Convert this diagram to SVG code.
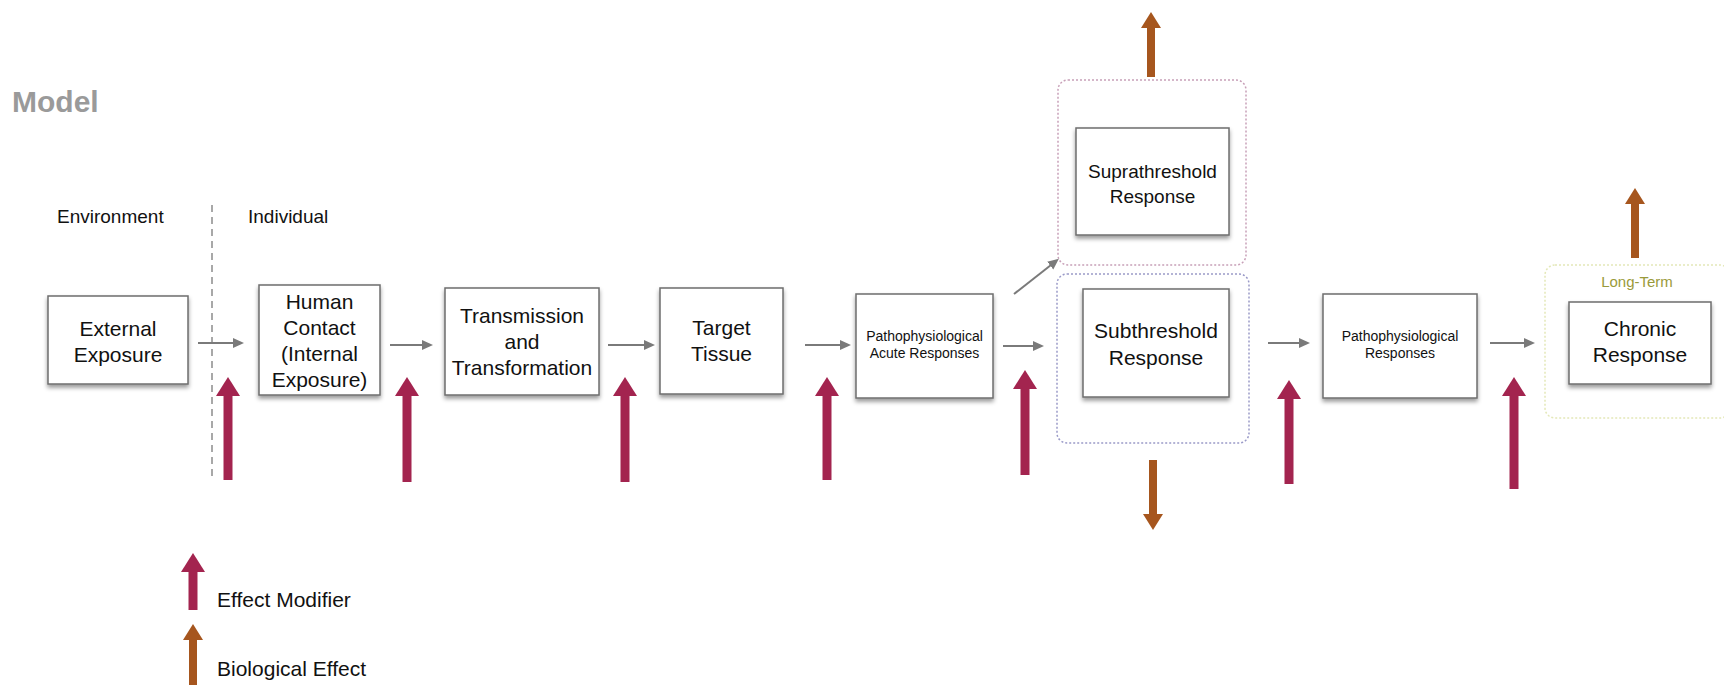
<svg xmlns="http://www.w3.org/2000/svg" width="1724" height="685" viewBox="0 0 1724 685">
<defs>
<style>
.box{fill:#fff;stroke:#6e6e6e;stroke-width:1.5;filter:url(#sh)}
.t{font-family:"Liberation Sans",Arial,sans-serif;fill:#111;text-anchor:middle}
.big{font-size:21px}
.mid{font-size:19px}
.sm{font-size:14px}
.lbl{font-family:"Liberation Sans",Arial,sans-serif;fill:#111;font-size:19px}
.leg{font-family:"Liberation Sans",Arial,sans-serif;fill:#111;font-size:21px}
.con{stroke:#7a7a7a;stroke-width:2;fill:none;marker-end:url(#ga)}
.mod{stroke:#a3244f;stroke-width:9;fill:none;marker-end:url(#ma)}
.bio{stroke:#a6561e;stroke-width:8;fill:none;marker-end:url(#ba)}
</style>
<filter id="sh" x="-10%" y="-10%" width="120%" height="130%">
<feDropShadow dx="0" dy="3" stdDeviation="2" flood-color="#000" flood-opacity="0.4"/>
</filter>
<marker id="ga" markerUnits="userSpaceOnUse" markerWidth="12" markerHeight="12" refX="1" refY="5" orient="auto" viewBox="0 0 12 10">
<path d="M0,0 L11,5 L0,10 Z" fill="#7a7a7a"/>
</marker>
<marker id="ma" markerUnits="userSpaceOnUse" markerWidth="24" markerHeight="24" refX="1" refY="12" orient="auto" viewBox="0 0 20 24">
<path d="M0,0 L19,12 L0,24 Z" fill="#a3244f"/>
</marker>
<marker id="ba" markerUnits="userSpaceOnUse" markerWidth="20" markerHeight="20" refX="1" refY="10" orient="auto" viewBox="0 0 17 20">
<path d="M0,0 L16,10 L0,20 Z" fill="#a6561e"/>
</marker>
</defs>
<rect width="1724" height="685" fill="#fff"/>

<text x="12" y="112" font-family="Liberation Sans,Arial,sans-serif" font-weight="bold" font-size="30" fill="#9a9a9a">Model</text>
<text class="lbl" x="57" y="223">Environment</text>
<text class="lbl" x="248" y="223">Individual</text>
<line x1="212" y1="205" x2="212" y2="478" stroke="#a8a8a8" stroke-width="2" stroke-dasharray="7,5"/>

<g id="groups">
<rect id="supra-group" x="1058" y="80" width="188" height="185" rx="10" fill="none" stroke="#c8a0b8" stroke-width="1.5" stroke-dasharray="2,2"/>
<rect id="sub-group" x="1057" y="274" width="192" height="169" rx="10" fill="none" stroke="#9a9ac8" stroke-width="1.5" stroke-dasharray="2,2"/>
<rect id="long-term" x="1545" y="265" width="185" height="153" rx="10" fill="none" stroke="#e4e8b8" stroke-width="1.5" stroke-dasharray="2,2"/>
<text x="1637" y="287" font-family="Liberation Sans,Arial,sans-serif" font-size="15" fill="#9a9a3a" text-anchor="middle">Long-Term</text>
</g>

<g id="external-exposure">
<rect class="box" x="48" y="296" width="140" height="88"/>
<text class="t big" x="118" y="336">External</text>
<text class="t big" x="118" y="362">Exposure</text>
</g>
<g id="human-contact">
<rect class="box" x="259" y="285" width="121" height="110"/>
<text class="t big" x="319.5" y="309">Human</text>
<text class="t big" x="319.5" y="335">Contact</text>
<text class="t big" x="319.5" y="361">(Internal</text>
<text class="t big" x="319.5" y="387">Exposure)</text>
</g>
<g id="transmission">
<rect class="box" x="445" y="288" width="154" height="107"/>
<text class="t big" x="522" y="323">Transmission</text>
<text class="t big" x="522" y="349">and</text>
<text class="t big" x="522" y="375">Transformation</text>
</g>
<g id="target-tissue">
<rect class="box" x="660" y="288" width="123" height="106"/>
<text class="t big" x="721.5" y="335">Target</text>
<text class="t big" x="721.5" y="361">Tissue</text>
</g>
<g id="patho-acute">
<rect class="box" x="856" y="294" width="137" height="104"/>
<text class="t sm" x="924.5" y="341">Pathophysiological</text>
<text class="t sm" x="924.5" y="358">Acute Responses</text>
</g>
<g id="suprathreshold">
<rect class="box" x="1076" y="128" width="153" height="107"/>
<text class="t mid" x="1152.5" y="178">Suprathreshold</text>
<text class="t mid" x="1152.5" y="203">Response</text>
</g>
<g id="subthreshold">
<rect class="box" x="1083" y="289" width="146" height="108"/>
<text class="t big" x="1156" y="338">Subthreshold</text>
<text class="t big" x="1156" y="365">Response</text>
</g>
<g id="patho-responses">
<rect class="box" x="1323" y="294" width="154" height="104"/>
<text class="t sm" x="1400" y="341">Pathophysiological</text>
<text class="t sm" x="1400" y="358">Responses</text>
</g>
<g id="chronic">
<rect class="box" x="1569" y="302" width="142" height="82"/>
<text class="t big" x="1640" y="336">Chronic</text>
<text class="t big" x="1640" y="362">Response</text>
</g>

<g id="connectors">
<line class="con" x1="198" y1="343" x2="234" y2="343"/>
<line class="con" x1="390" y1="345" x2="423" y2="345"/>
<line class="con" x1="608" y1="345" x2="645" y2="345"/>
<line class="con" x1="805" y1="345" x2="841" y2="345"/>
<line class="con" x1="1003" y1="346" x2="1034" y2="346"/>
<line class="con" x1="1014" y1="294" x2="1051" y2="265"/>
<line class="con" x1="1268" y1="343" x2="1300" y2="343"/>
<line class="con" x1="1490" y1="343" x2="1525" y2="343"/>

<line class="mod" x1="228" y1="480" x2="228" y2="395"/>
<line class="mod" x1="407" y1="482" x2="407" y2="395"/>
<line class="mod" x1="625" y1="482" x2="625" y2="395"/>
<line class="mod" x1="827" y1="480" x2="827" y2="395"/>
<line class="mod" x1="1025" y1="475" x2="1025" y2="388"/>
<line class="mod" x1="1289" y1="484" x2="1289" y2="398"/>
<line class="mod" x1="1514" y1="489" x2="1514" y2="395"/>

<line class="bio" x1="1151" y1="77" x2="1151" y2="27"/>
<line class="bio" x1="1635" y1="258" x2="1635" y2="203"/>
<line class="bio" x1="1153" y1="460" x2="1153" y2="515"/>
</g>

<g id="legend">
<line class="mod" x1="193" y1="610" x2="193" y2="571"/>
<text class="leg" x="217" y="607">Effect Modifier</text>
<line class="bio" x1="193" y1="685" x2="193" y2="639"/>
<text class="leg" x="217" y="676">Biological Effect</text>
</g>
</svg>
